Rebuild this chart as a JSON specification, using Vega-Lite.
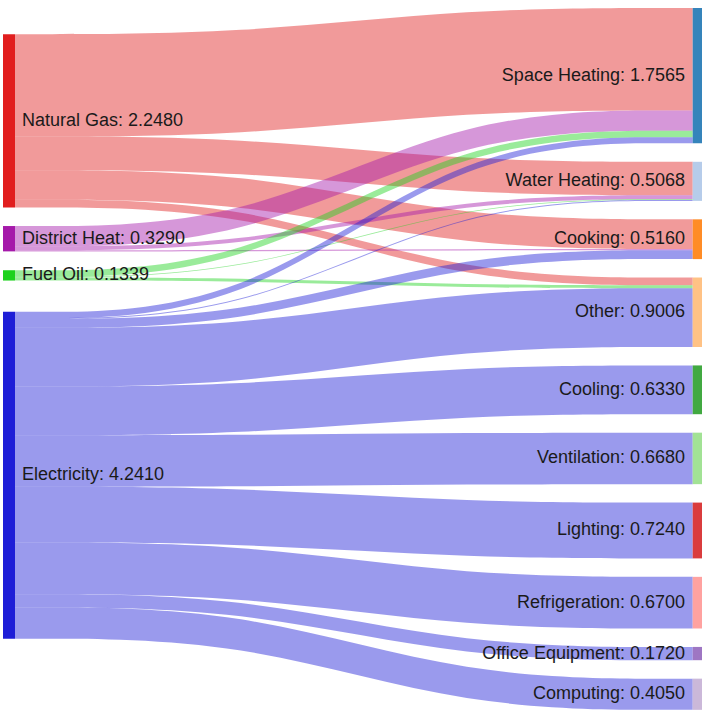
{
  "$schema": "https://vega.github.io/schema/vega-lite/v6.json",
  "width": 702,
  "height": 710,
  "autosize": {"type": "fit", "contains": "padding"},
  "padding": 0,
  "background": "white",
  "config": {"view": {"stroke": null}},
  "datasets": {
    "nodes": [
      {"node": "Natural Gas", "rank": 1, "label": "Natural Gas: 2.2480"},
      {"node": "District Heat", "rank": 2, "label": "District Heat: 0.3290"},
      {"node": "Fuel Oil", "rank": 3, "label": "Fuel Oil: 0.1339"},
      {"node": "Electricity", "rank": 4, "label": "Electricity: 4.2410"},
      {"node": "Space Heating", "rank": 1, "label": "Space Heating: 1.7565"},
      {"node": "Water Heating", "rank": 2, "label": "Water Heating: 0.5068"},
      {"node": "Cooking", "rank": 3, "label": "Cooking: 0.5160"},
      {"node": "Other", "rank": 4, "label": "Other: 0.9006"},
      {"node": "Cooling", "rank": 5, "label": "Cooling: 0.6330"},
      {"node": "Ventilation", "rank": 6, "label": "Ventilation: 0.6680"},
      {"node": "Lighting", "rank": 7, "label": "Lighting: 0.7240"},
      {"node": "Refrigeration", "rank": 8, "label": "Refrigeration: 0.6700"},
      {"node": "Office Equipment", "rank": 9, "label": "Office Equipment: 0.1720"},
      {"node": "Computing", "rank": 10, "label": "Computing: 0.4050"},
      {"node": "left gap 1", "rank": 0.5},
      {"node": "left gap 2", "rank": 1.5},
      {"node": "left gap 3", "rank": 2.5},
      {"node": "left gap 4", "rank": 3.5},
      {"node": "right gap 1", "rank": 0.5},
      {"node": "right gap 2", "rank": 1.5},
      {"node": "right gap 3", "rank": 2.5},
      {"node": "right gap 4", "rank": 3.5},
      {"node": "right gap 5", "rank": 4.5},
      {"node": "right gap 6", "rank": 5.5},
      {"node": "right gap 7", "rank": 6.5},
      {"node": "right gap 8", "rank": 7.5},
      {"node": "right gap 9", "rank": 8.5},
      {"node": "right gap 10", "rank": 9.5},
      {"node": "end", "rank": 99}
    ],
    "links": [
      {"source": "Natural Gas", "target": "Space Heating", "value": 1.3286},
      {"source": "Natural Gas", "target": "Water Heating", "value": 0.4348},
      {"source": "Natural Gas", "target": "Cooking", "value": 0.385},
      {"source": "Natural Gas", "target": "Other", "value": 0.0996},
      {"source": "District Heat", "target": "Space Heating", "value": 0.263},
      {"source": "District Heat", "target": "Water Heating", "value": 0.05},
      {"source": "District Heat", "target": "Cooking", "value": 0.016},
      {"source": "Fuel Oil", "target": "Space Heating", "value": 0.0849},
      {"source": "Fuel Oil", "target": "Water Heating", "value": 0.009},
      {"source": "Fuel Oil", "target": "Other", "value": 0.04},
      {"source": "Electricity", "target": "Space Heating", "value": 0.08},
      {"source": "Electricity", "target": "Water Heating", "value": 0.013},
      {"source": "Electricity", "target": "Cooking", "value": 0.115},
      {"source": "Electricity", "target": "Other", "value": 0.761},
      {"source": "Electricity", "target": "Cooling", "value": 0.633},
      {"source": "Electricity", "target": "Ventilation", "value": 0.668},
      {"source": "Electricity", "target": "Lighting", "value": 0.724},
      {"source": "Electricity", "target": "Refrigeration", "value": 0.67},
      {"source": "Electricity", "target": "Office Equipment", "value": 0.172},
      {"source": "Electricity", "target": "Computing", "value": 0.405},
      {"source": "left gap 1", "target": "end", "value": 0.4437},
      {"source": "left gap 2", "target": "end", "value": 0.2406},
      {"source": "left gap 3", "target": "end", "value": 0.2445},
      {"source": "left gap 4", "target": "end", "value": 0.4056},
      {"source": "end", "target": "right gap 1", "value": 0.1035},
      {"source": "end", "target": "right gap 2", "value": 0.2393},
      {"source": "end", "target": "right gap 3", "value": 0.2393},
      {"source": "end", "target": "right gap 4", "value": 0.2393},
      {"source": "end", "target": "right gap 5", "value": 0.2393},
      {"source": "end", "target": "right gap 6", "value": 0.2393},
      {"source": "end", "target": "right gap 7", "value": 0.2393},
      {"source": "end", "target": "right gap 8", "value": 0.2393},
      {"source": "end", "target": "right gap 9", "value": 0.2393},
      {"source": "end", "target": "right gap 10", "value": 0.2393}
    ]
  },
  "data": {"name": "links"},
  "transform": [
    {"lookup": "source", "from": {"data": {"name": "nodes"}, "key": "node", "fields": ["rank"]}, "as": ["sr"]},
    {"lookup": "target", "from": {"data": {"name": "nodes"}, "key": "node", "fields": ["rank"]}, "as": ["tr"]},
    {"stack": "value", "groupby": [], "sort": [{"field": "sr", "order": "ascending"}, {"field": "tr", "order": "ascending"}], "as": ["a", "a2"]},
    {"stack": "value", "groupby": [], "sort": [{"field": "sr", "order": "ascending"}, {"field": "tr", "order": "ascending"}], "as": ["b", "b2"]},
    {"stack": "value", "groupby": [], "sort": [{"field": "tr", "order": "ascending"}, {"field": "sr", "order": "ascending"}], "as": ["c", "c2"]},
    {"stack": "value", "groupby": [], "sort": [{"field": "tr", "order": "ascending"}, {"field": "sr", "order": "ascending"}], "as": ["d", "d2"]},
    {"filter": "datum.sr % 1 === 0 && datum.tr % 1 === 0"}
  ],
  "layer": [
    {
      "transform": [
        {"fold": ["a", "b", "c", "d"], "as": ["k", "top"]},
        {"fold": ["a2", "b2", "c2", "d2"], "as": ["k2", "bottom"]},
        {"filter": "indexof(['a','b','c','d'], datum.k) === indexof(['a2','b2','c2','d2'], datum.k2)"}
      ],
      "mark": {"type": "area", "interpolate": "basis", "opacity": 0.45},
      "encoding": {
        "x": {"field": "k", "type": "ordinal",
              "scale": {"type": "point", "domain": ["a", "b", "c", "d"], "range": [15, 692.7], "padding": 0}, "axis": null},
        "y": {"field": "top", "type": "quantitative", "stack": null,
              "scale": {"domain": [0, 9.185], "reverse": true, "nice": false, "zero": false}, "axis": null},
        "y2": {"field": "bottom"},
        "detail": {"field": "target", "type": "nominal"},
        "color": {"field": "source", "type": "nominal", "legend": null,
                  "scale": {"domain": ["Natural Gas", "District Heat", "Fuel Oil", "Electricity", "Space Heating", "Water Heating", "Cooking", "Other", "Cooling", "Ventilation", "Lighting", "Refrigeration", "Office Equipment", "Computing"],
                            "range": ["#e11e1e", "#a519aa", "#1ed21e", "#1e1ed7", "#1f77b4", "#aec7e8", "#ff7f0e", "#ffbb78", "#2ca02c", "#98df8a", "#d62728", "#ff9896", "#9467bd", "#c5b0d5"]}}
      }
    },
    {
      "transform": [
        {"aggregate": [{"op": "min", "field": "a", "as": "lo"}, {"op": "max", "field": "a2", "as": "hi"}], "groupby": ["source"]}
      ],
      "mark": {"type": "bar", "size": 12, "xOffset": -6, "opacity": 1},
      "encoding": {
        "x": {"datum": "a", "type": "ordinal"},
        "y": {"field": "lo", "type": "quantitative", "stack": null},
        "y2": {"field": "hi"},
        "color": {"field": "source", "type": "nominal", "legend": null}
      }
    },
    {
      "transform": [
        {"aggregate": [{"op": "min", "field": "d", "as": "lo"}, {"op": "max", "field": "d2", "as": "hi"}], "groupby": ["target"]}
      ],
      "mark": {"type": "bar", "size": 12, "xOffset": 6, "opacity": 0.9},
      "encoding": {
        "x": {"datum": "d", "type": "ordinal"},
        "y": {"field": "lo", "type": "quantitative", "stack": null},
        "y2": {"field": "hi"},
        "color": {"field": "target", "type": "nominal", "legend": null}
      }
    },
    {
      "transform": [
        {"aggregate": [{"op": "min", "field": "a", "as": "lo"}, {"op": "max", "field": "a2", "as": "hi"}], "groupby": ["source"]},
        {"fold": ["lo", "hi"], "as": ["edge", "pos"]},
        {"aggregate": [{"op": "mean", "field": "pos", "as": "mid"}], "groupby": ["source"]},
        {"lookup": "source", "from": {"data": {"name": "nodes"}, "key": "node", "fields": ["label"]}, "as": ["label"]}
      ],
      "mark": {"type": "text", "align": "left", "baseline": "middle", "dx": 7, "font": "Liberation Sans", "fontSize": 18, "color": "#1a1a1a"},
      "encoding": {
        "x": {"datum": "a", "type": "ordinal"},
        "y": {"field": "mid", "type": "quantitative"},
        "text": {"field": "label"}
      }
    },
    {
      "transform": [
        {"aggregate": [{"op": "min", "field": "d", "as": "lo"}, {"op": "max", "field": "d2", "as": "hi"}], "groupby": ["target"]},
        {"fold": ["lo", "hi"], "as": ["edge", "pos"]},
        {"aggregate": [{"op": "mean", "field": "pos", "as": "mid"}], "groupby": ["target"]},
        {"lookup": "target", "from": {"data": {"name": "nodes"}, "key": "node", "fields": ["label"]}, "as": ["label"]}
      ],
      "mark": {"type": "text", "align": "right", "baseline": "middle", "dx": -7.7, "font": "Liberation Sans", "fontSize": 18, "color": "#1a1a1a"},
      "encoding": {
        "x": {"datum": "d", "type": "ordinal"},
        "y": {"field": "mid", "type": "quantitative"},
        "text": {"field": "label"}
      }
    }
  ]
}
